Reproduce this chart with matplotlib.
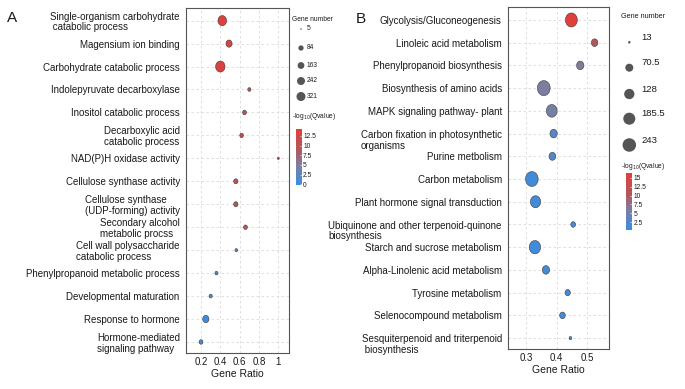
import numpy as np
import matplotlib
matplotlib.use("Agg")
import matplotlib.pyplot as plt
from matplotlib.colors import LinearSegmentedColormap, Normalize
from matplotlib.cm import ScalarMappable
from matplotlib.path import Path
from matplotlib.transforms import offset_copy

W, H = 685, 389

# ---- panel A: GO terms (top to bottom) ----
terms_a = [
    "Single-organism carbohydrate\n catabolic process",
    "Magensium ion binding",
    "Carbohydrate catabolic process",
    "Indolepyruvate decarboxylase",
    "Inositol catabolic process",
    "Decarboxylic acid\ncatabolic process",
    "NAD(P)H oxidase activity",
    "Cellulose synthase activity",
    "Cellulose synthase\n(UDP-forming) activity",
    "Secondary alcohol\nmetabolic procss",
    "Cell wall polysaccharide\ncatabolic process",
    "Phenylpropanoid metabolic process",
    "Developmental maturation",
    "Response to hormone",
    "Hormone-mediated\nsignaling pathway",
]
ratio_a = [0.42, 0.49, 0.40, 0.70, 0.65, 0.62, 1.00, 0.56, 0.56, 0.66, 0.565, 0.36, 0.30, 0.25, 0.20]
count_a = [258, 105, 321, 13, 25, 22, 5, 35, 35, 25, 8, 12, 14, 110, 25]
qval_a = [14.2, 13.0, 13.5, 11.5, 11.0, 11.0, 10.5, 10.0, 9.5, 9.0, 2.5, 1.5, 1.5, 0.1, 1.0]
size_breaks_a = [5, 84, 163, 242, 321]
cbar_ticks_a = [0, 2.5, 5, 7.5, 10, 12.5]
xticks_a = [0.2, 0.4, 0.6, 0.8, 1.0]
xticklabels_a = ["0.2", "0.4", "0.6", "0.8", "1"]

# ---- panel B: KEGG pathways (top to bottom) ----
terms_b = [
    "Glycolysis/Gluconeogenesis",
    "Linoleic acid metabolism",
    "Phenylpropanoid biosynthesis",
    "Biosynthesis of amino acids",
    "MAPK signaling pathway- plant",
    "Carbon fixation in photosynthetic\norganisms",
    "Purine metbolism",
    "Carbon metabolism",
    "Plant hormone signal transduction",
    "Ubiquinone and other terpenoid-quinone\nbiosynthesis",
    "Starch and sucrose metabolism",
    "Alpha-Linolenic acid metabolism",
    "Tyrosine metabolism",
    "Selenocompound metabolism",
    "Sesquiterpenoid and triterpenoid\n biosynthesis",
]
ratio_b = [0.448, 0.524, 0.477, 0.358, 0.384, 0.390, 0.386, 0.319, 0.331, 0.454, 0.329, 0.365, 0.436, 0.419, 0.445]
count_b = [205, 45, 60, 243, 160, 60, 50, 236, 140, 22, 180, 60, 28, 32, 13]
qval_b = [16.2, 11.0, 6.5, 6.0, 5.5, 2.8, 2.5, 1.0, 1.0, 1.5, 0.8, 1.5, 1.5, 1.2, 0.5]
size_breaks_b = [13, 70.5, 128, 185.5, 243]
cbar_ticks_b = [2.5, 5, 7.5, 10, 12.5, 15]
xticks_b = [0.3, 0.4, 0.5]
xticklabels_b = ["0.3", "0.4", "0.5"]

plt.rcParams["font.family"] = ["Liberation Sans", "DejaVu Sans"]
TXT = "#1a1a1a"

cmap = LinearSegmentedColormap.from_list(
    "qv", [(0.0, "#3a8ddf"), (0.35, "#7b7fa3"), (0.62, "#b0585e"), (1.0, "#e0403a")])

# slightly tall ellipse marker (the reference is a bit squeezed sideways)
th = np.linspace(0, 2 * np.pi, 64)
ell = Path(np.column_stack([np.cos(th) * 0.85, np.sin(th)]), closed=True)


def px_rect(x0, y0, x1, y1):
    return [x0 / W, 1 - y1 / H, (x1 - x0) / W, (y1 - y0) / H]


def sizes(n, nmin, nmax, dmin, dmax):
    r = (np.asarray(n, float) - nmin) / (nmax - nmin)
    d_px = dmin + (dmax - dmin) * np.sqrt(r)
    return (d_px * 72 / 100) ** 2


fig = plt.figure(figsize=(W / 100, H / 100), dpi=100)


def panel(rect, terms, ratio, count, qval, vmin, vmax, xlim, ylim, xticks, xtl,
          dmin, dmax, first_line_on_tick):
    ax = fig.add_axes(rect)
    y = np.arange(len(terms))
    norm = Normalize(vmin, vmax)
    s = sizes(count, min(count), max(count), dmin, dmax)
    ax.scatter(ratio, y, s=s, c=qval, cmap=cmap, norm=norm, marker=ell,
               edgecolors="#3a3a3a", linewidths=0.4, zorder=3)
    ax.set_xlim(*xlim)
    ax.set_ylim(*ylim)
    ax.set_xticks(xticks)
    ax.set_xticklabels(xtl, fontsize=7, color=TXT)
    ax.set_yticks(y)
    ax.tick_params(axis="y", length=0, pad=4.5)
    ax.tick_params(axis="x", length=0, pad=3)
    ax.set_yticklabels(terms, fontsize=7, color=TXT, linespacing=1.1)
    # tick_params resets label transforms, so adjust labels after it
    for t in ax.get_yticklabels():
        t.set_multialignment("left")
        if first_line_on_tick and "\n" in t.get_text():
            # two-line label hangs below the tick, first line level with the dot
            t.set_transform(offset_copy(t.get_transform(), fig=fig, y=-5.2, units="dots"))
    ax.grid(True, color="#d9d9d9", linestyle=(0, (3, 3)), linewidth=0.6, zorder=0)
    ax.set_axisbelow(True)
    for sp in ax.spines.values():
        sp.set_color("#555555")
        sp.set_linewidth(0.8)
    ax.set_xlabel("Gene Ratio", fontsize=7.5, color=TXT, labelpad=1.5)
    return ax, norm


ax_a, norm_a = panel(px_rect(186, 8, 289, 353), terms_a, ratio_a, count_a, qval_a,
                     -0.2, 14.3, (0.045, 1.11), (14.48, -0.55), xticks_a, xticklabels_a,
                     2.3, 11.0, False)
ax_b, norm_b = panel(px_rect(508, 7, 609, 349), terms_b, ratio_b, count_b, qval_b,
                     0.3, 16.3, (0.241, 0.571), (14.48, -0.57), xticks_b, xticklabels_b,
                     3.2, 15.0, True)

# overlay in pixel coordinates for legends and panel letters
ov = fig.add_axes([0, 0, 1, 1], zorder=5)
ov.set_xlim(0, W)
ov.set_ylim(H, 0)
ov.axis("off")

ov.text(12, 18, "A", fontsize=11, ha="center", va="center", color=TXT)
ov.text(361, 19, "B", fontsize=11, ha="center", va="center", color=TXT)

# size legend A
ov.text(292, 19, "Gene number", fontsize=4.8, ha="left", va="center", color=TXT)
leg_y_a = [29, 48, 65.5, 81, 96.5]
ov.scatter([301] * 5, leg_y_a, s=sizes(size_breaks_a, 5, 321, 1.5, 9.0),
           c="#555555", marker="o", linewidths=0)
for yy, b in zip(leg_y_a, size_breaks_a):
    ov.text(306.5, yy - 0.5, f"{b:g}", fontsize=4.8, ha="left", va="center", color=TXT)
ov.text(292, 116, "-log$_{10}$(Qvalue)", fontsize=4.8, ha="left", va="center", color=TXT)

# size legend B
ov.text(621, 16, "Gene number", fontsize=5.2, ha="left", va="center", color=TXT)
leg_y_b = [42.3, 67.7, 94, 118.7, 145]
ov.scatter([629.3] * 5, leg_y_b, s=sizes(size_breaks_b, 13, 243, 2.5, 13.5),
           c="#555555", marker="o", linewidths=0)
for yy, b in zip(leg_y_b, size_breaks_b):
    ov.text(641, yy - 5, f"{b:g}", fontsize=6.8, ha="left", va="center", color=TXT)
ov.text(621, 166.5, "-log$_{10}$(Qvalue)", fontsize=4.8, ha="left", va="center", color=TXT)


def cbar(rect, norm, ticks):
    cax = fig.add_axes(rect)
    cb = fig.colorbar(ScalarMappable(norm=norm, cmap=cmap), cax=cax)
    cb.set_ticks(ticks)
    cb.set_ticklabels([f"{t:g}" for t in ticks])
    cb.outline.set_visible(False)
    cax.tick_params(labelsize=4.8, length=1.5, width=0.4, color="white",
                    direction="in", pad=1, labelcolor=TXT)


cbar(px_rect(296.3, 129, 301.7, 185), norm_a, cbar_ticks_a)
cbar(px_rect(626, 173.3, 632, 230), norm_b, cbar_ticks_b)

fig.savefig("out.png", dpi=100)
